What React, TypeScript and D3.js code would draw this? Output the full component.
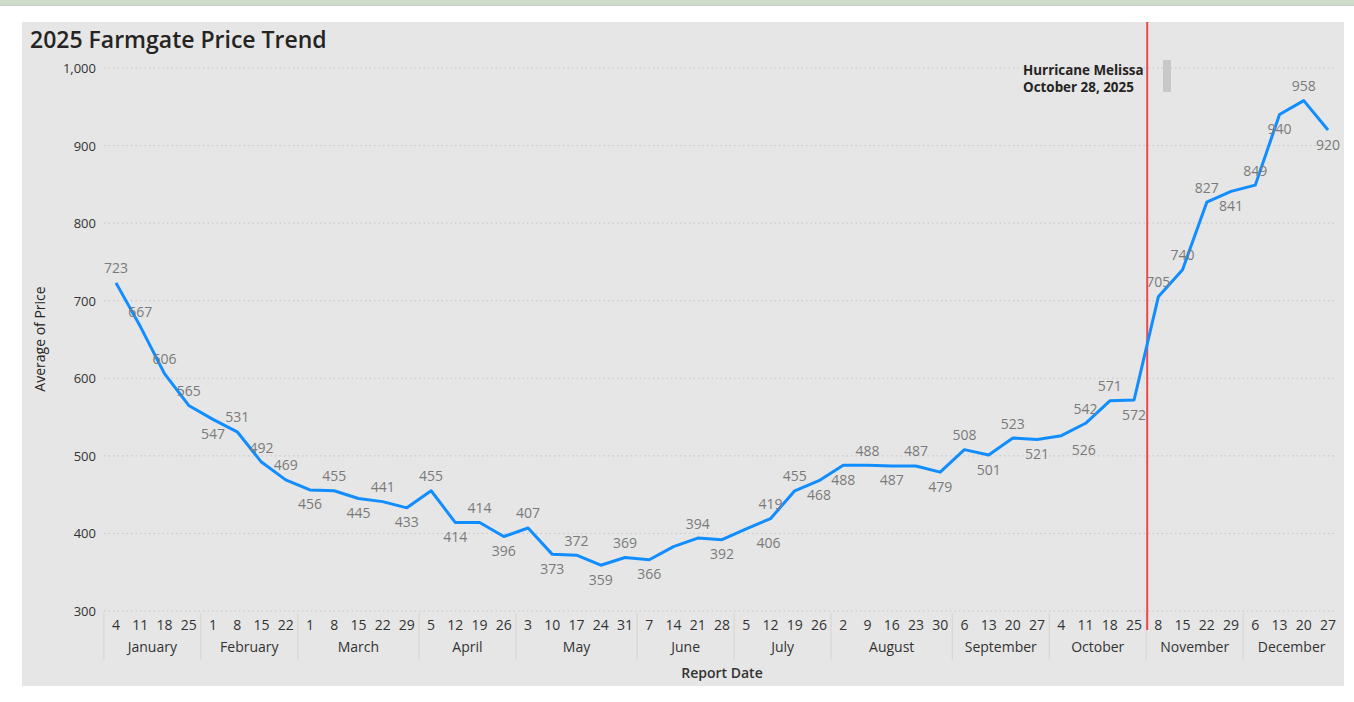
import React from "react";
import * as d3 from "d3";

const months = [
  "January", "February", "March", "April", "May", "June",
  "July", "August", "September", "October", "November", "December",
];
const days = [
  [4, 11, 18, 25], [1, 8, 15, 22], [1, 8, 15, 22, 29], [5, 12, 19, 26],
  [3, 10, 17, 24, 31], [7, 14, 21, 28], [5, 12, 19, 26], [2, 9, 16, 23, 30],
  [6, 13, 20, 27], [4, 11, 18, 25], [8, 15, 22, 29], [6, 13, 20, 27],
];
const prices = [
  723, 667, 606, 565,
  547, 531, 492, 469,
  456, 455, 445, 441, 433,
  455, 414, 414, 396,
  407, 373, 372, 359, 369,
  366, 383, 394, 392,
  406, 419, 455, 468,
  488, 488, 487, 487, 479,
  508, 501, 523, 521,
  526, 542, 571, 572,
  705, 740, 827, 841,
  849, 940, 958, 920,
];
// a = above, b = below, n = no label
const labelSide =
  "aaaa" + "baaa" + "babab" + "abab" + "ababa" + "bnab" + "baab" + "babab" + "abab" + "baab" + "aaab" + "abab";
// labels that Power BI nudged one slot to the right
const labelNudge: Record<number, number> = { 26: 0.92, 39: 0.92 };
const yTicks = [300, 400, 500, 600, 700, 800, 900, 1000];

const W = 1354;
const H = 702;
const font = "'Open Sans', 'Noto Sans', sans-serif";

export default function App() {
  const cats: { m: number; d: number; i: number }[] = [];
  days.forEach((ds, m) => ds.forEach((d) => cats.push({ m, d, i: cats.length })));

  const x = d3.scalePoint<number>().domain(cats.map((c) => c.i)).range([116, 1328]);
  const y = d3.scaleLinear().domain([300, 1000]).range([611, 68]);
  const step = x.step();

  const line = d3
    .line<number>()
    .x((_, i) => x(i)!)
    .y((v) => y(v));

  const monthInfo = months.map((name, m) => {
    const idx = cats.filter((c) => c.m === m).map((c) => c.i);
    const first = x(idx[0])!;
    const last = x(idx[idx.length - 1])!;
    return { name, center: (first + last) / 2, left: first - step / 2 };
  });

  const octLast = cats.filter((c) => c.m === 9).slice(-1)[0].i;
  const hurricaneX = x(octLast)! + step / 2 + 1;

  return (
    <svg
      width={W}
      height={H}
      style={{ position: "absolute", left: 0, top: 0, fontFamily: font }}
    >
      <rect x={0} y={0} width={W} height={H} fill="#ffffff" />
      <rect x={0} y={0} width={W} height={5} fill="#cfdcc9" />
      <line x1={0} x2={W} y1={5.5} y2={5.5} stroke="#c9c9c9" />
      <rect x={22} y={22} width={1322} height={664} fill="#e6e6e6" />

      <text x={30} y={48} fontSize={23} fontWeight={600} fill="#252423">
        2025 Farmgate Price Trend
      </text>

      {yTicks.map((t) => (
        <g key={t}>
          <line
            x1={104}
            x2={1336}
            y1={y(t)}
            y2={y(t)}
            stroke="#c6c6c6"
            strokeDasharray="1.5,3"
          />
          <text
            x={96}
            y={y(t)}
            textAnchor="end"
            dominantBaseline="central"
            fontSize={13}
            fill="#333333"
          >
            {d3.format(",")(t)}
          </text>
        </g>
      ))}

      <text
        transform={`translate(39,339) rotate(-90)`}
        textAnchor="middle"
        dominantBaseline="central"
        fontSize={14}
        fill="#252423"
      >
        Average of Price
      </text>

      {monthInfo.map((mi) => (
        <g key={mi.name}>
          <line
            x1={mi.left}
            x2={mi.left}
            y1={613}
            y2={660}
            stroke="#d9d2ca"
            strokeWidth={1}
          />
          <text
            x={mi.center}
            y={646}
            textAnchor="middle"
            dominantBaseline="central"
            fontSize={14}
            fill="#333333"
          >
            {mi.name}
          </text>
        </g>
      ))}
      {cats.map((c) => (
        <text
          key={c.i}
          x={x(c.i)}
          y={624}
          textAnchor="middle"
          dominantBaseline="central"
          fontSize={14}
          fill="#333333"
        >
          {c.d}
        </text>
      ))}
      <text
        x={722}
        y={672}
        textAnchor="middle"
        dominantBaseline="central"
        fontSize={14}
        fontWeight={600}
        fill="#333333"
      >
        Report Date
      </text>

      <line
        x1={hurricaneX}
        x2={hurricaneX}
        y1={22}
        y2={630}
        stroke="#f0474a"
        strokeWidth={2}
      />
      <text x={1023} y={75} fontSize={13.4} fontWeight={700} fill="#252423">
        Hurricane Melissa
      </text>
      <text x={1023} y={92} fontSize={13.4} fontWeight={700} fill="#252423">
        October 28, 2025
      </text>
      <rect x={1163} y={60} width={8} height={32} fill="#c8c8c8" />

      <path
        d={line(prices)!}
        fill="none"
        stroke="#118dff"
        strokeWidth={3}
        strokeLinejoin="round"
      />

      {prices.map((v, i) => {
        const side = labelSide[i];
        if (side === "n") return null;
        const lx = x(i)! + (labelNudge[i] || 0) * step;
        const ly = y(v) + (side === "a" ? -15 : 14);
        return (
          <text
            key={i}
            x={lx}
            y={ly}
            textAnchor="middle"
            dominantBaseline="central"
            fontSize={14}
            fill="#7a7a7a"
          >
            {v}
          </text>
        );
      })}
    </svg>
  );
}
